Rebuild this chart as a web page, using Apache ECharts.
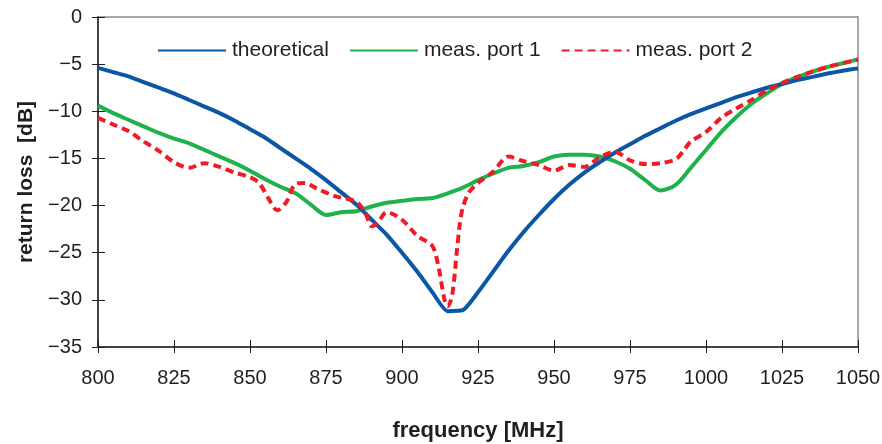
<!DOCTYPE html>
<html><head><meta charset="utf-8">
<script src="https://cdn.jsdelivr.net/npm/echarts@6/dist/echarts.min.js"></script>
<style>html,body{margin:0;padding:0;background:#fff}#c{width:882px;height:444px}</style>
</head><body><div id="c"></div>
<script>
const xTicks = [800, 825, 850, 875, 900, 925, 950, 975, 1000, 1025, 1050];
const yTicks = [0, -5, -10, -15, -20, -25, -30, -35];

const theoFreq = [800,805,810,815,820,825,830,835,840,845,850,855,860,865,870,875,880,885,890,895,900,905,910,915,920,925,930,935,940,945,950,955,960,965,970,975,980,985,990,995,1000,1005,1010,1015,1020,1025,1030,1035,1040,1045,1050];
const theoDb = [-5.4,-5.85,-6.3,-6.9,-7.5,-8.1,-8.8,-9.5,-10.2,-11.0,-11.9,-12.8,-13.9,-15.0,-16.1,-17.3,-18.6,-19.9,-21.5,-23.1,-25.0,-27.0,-29.2,-31.2,-31.1,-29.2,-27.0,-24.8,-22.8,-21.0,-19.3,-17.8,-16.5,-15.4,-14.4,-13.5,-12.6,-11.8,-11.0,-10.3,-9.7,-9.1,-8.5,-8.0,-7.5,-7.1,-6.7,-6.35,-6.0,-5.7,-5.45];

const port1Freq = [800,805,810,815,820,825,830,835,840,845,850,855,860,865,870,875,880,885,890,895,900,905,910,915,920,925,930,935,940,945,950,955,960,965,970,975,980,985,990,995,1000,1005,1010,1015,1020,1025,1030,1035,1040,1045,1050];
const port1Db = [-9.4,-10.2,-10.9,-11.6,-12.3,-12.9,-13.4,-14.1,-14.8,-15.5,-16.3,-17.2,-18.0,-18.7,-19.9,-21.0,-20.7,-20.6,-20.1,-19.7,-19.5,-19.3,-19.2,-18.7,-18.1,-17.3,-16.6,-16.0,-15.8,-15.4,-14.8,-14.6,-14.6,-14.8,-15.3,-16.1,-17.3,-18.4,-17.8,-16.0,-14.1,-12.2,-10.6,-9.2,-8.1,-7.1,-6.4,-5.8,-5.3,-4.9,-4.5];

const port2Freq = [800,805,810,815,820,825,830,835,840,845,850,853,856,859,862,865,868,872,878,885,888,890,892,895,900,905,910,912,914,915,916.5,918,919,920,922,925,930,935,940,945,950,955,960,965,970,975,980,985,990,993,995,1000,1005,1010,1015,1020,1025,1030,1035,1040,1045,1050];
const port2Db = [-10.7,-11.4,-12.1,-13.2,-14.2,-15.4,-16.0,-15.5,-15.9,-16.5,-17.0,-17.6,-19.2,-20.5,-19.6,-17.7,-17.6,-18.2,-19.0,-19.6,-20.8,-22.2,-21.8,-20.7,-21.5,-23.2,-24.3,-26.5,-30.0,-30.7,-29.5,-25.0,-22.0,-20.2,-18.6,-17.6,-16.4,-14.8,-15.3,-15.7,-16.3,-15.7,-15.9,-14.9,-14.3,-15.2,-15.6,-15.5,-15.1,-14.0,-13.2,-12.2,-10.7,-9.7,-8.8,-7.8,-7.0,-6.35,-5.8,-5.3,-4.9,-4.5];

const pairs = (xs, ys) => xs.map((x, i) => [x, ys[i]]);
const txt = '#231f20';
const font = 'Liberation Sans, Arial, sans-serif';
const fmtY = v => String(v).replace('-', '\u2212');
const GRID = {left: 98, right: 24, top: 17, bottom: 97, outerBoundsMode: 'none', containLabel: false};
const xMin = xTicks[0], xMax = xTicks[xTicks.length - 1];
const yMin = yTicks[yTicks.length - 1], yMax = yTicks[0];
const tickStyle = {color: txt, width: 1};

const chart = echarts.init(document.getElementById('c'), null, {renderer: 'canvas'});
chart.setOption({
  animation: false,
  backgroundColor: '#fff',
  grid: [
    Object.assign({show: true, borderColor: '#8c8c8c', borderWidth: 1.5}, GRID),
    Object.assign({show: false}, GRID)
  ],
  legend: {
    left: 152, top: 35, itemWidth: 68, itemHeight: 22, itemGap: 20,
    itemStyle: {opacity: 0},
    textStyle: {fontFamily: font, fontSize: 21, color: txt, padding: [0, 0, 0, 1]},
    data: ['theoretical', 'meas. port 1', 'meas. port 2']
  },
  xAxis: [{
    type: 'value', gridIndex: 0, min: xMin, max: xMax, interval: 25,
    name: 'frequency [MHz]', nameLocation: 'middle', nameGap: 73,
    nameTextStyle: {fontFamily: font, fontSize: 22, fontWeight: 'bold', color: txt},
    axisLine: {show: true, onZero: false, lineStyle: {color: txt, width: 1.5}},
    axisTick: {show: true, inside: false, length: 6, lineStyle: tickStyle},
    axisLabel: {fontFamily: font, fontSize: 20, color: txt, margin: 21, formatter: v => String(v)},
    splitLine: {show: false}
  }, {
    type: 'value', gridIndex: 1, min: xMin, max: xMax, interval: 25, position: 'bottom',
    axisLine: {show: false, onZero: false}, axisTick: {show: true, inside: true, length: 7, lineStyle: tickStyle},
    axisLabel: {show: false}, splitLine: {show: false}
  }],
  yAxis: [{
    type: 'value', gridIndex: 0, min: yMin, max: yMax, interval: 5,
    name: 'return loss  [dB]', nameLocation: 'middle', nameGap: 58, nameRotate: 90,
    nameTextStyle: {fontFamily: font, fontSize: 21, fontWeight: 'bold', color: txt},
    axisLine: {show: true, onZero: false, lineStyle: {color: txt, width: 1.5}},
    axisTick: {show: true, inside: false, length: 6, lineStyle: tickStyle},
    axisLabel: {fontFamily: font, fontSize: 20, color: txt, margin: 16, formatter: fmtY},
    splitLine: {show: false}
  }, {
    type: 'value', gridIndex: 1, min: yMin, max: yMax, interval: 5, position: 'left',
    axisLine: {show: false, onZero: false}, axisTick: {show: true, inside: true, length: 7, lineStyle: tickStyle},
    axisLabel: {show: false}, splitLine: {show: false}
  }],
  series: [
    {name: 'theoretical', type: 'line', data: pairs(theoFreq, theoDb), showSymbol: false, symbol: 'none', smooth: 0.2,
     lineStyle: {color: '#0c56a6', width: 4}, itemStyle: {color: '#0c56a6'}, z: 3},
    {name: 'meas. port 1', type: 'line', data: pairs(port1Freq, port1Db), showSymbol: false, symbol: 'none', smooth: 0.3,
     lineStyle: {color: '#1fb14b', width: 4}, itemStyle: {color: '#1fb14b'}, z: 2},
    {name: 'meas. port 2', type: 'line', data: pairs(port2Freq, port2Db), showSymbol: false, symbol: 'none', smooth: 0.3,
     lineStyle: {color: '#ee1c25', width: 4, type: [8, 5]}, itemStyle: {color: '#ee1c25'}, z: 4}
  ]
});
</script></body></html>
